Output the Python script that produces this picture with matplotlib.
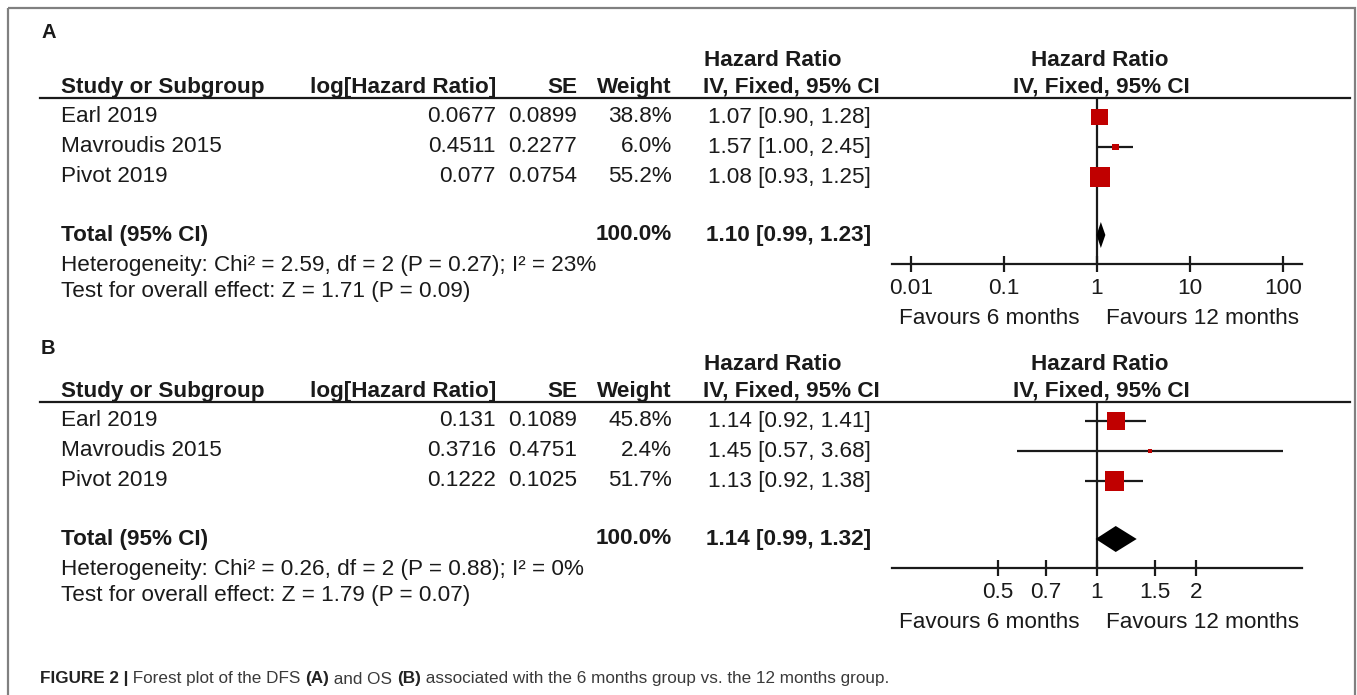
import matplotlib
matplotlib.use('Agg')
import matplotlib.pyplot as plt
from matplotlib.patches import Rectangle
from matplotlib.ticker import NullLocator

plt.rcParams['font.family'] = ['Liberation Sans', 'DejaVu Sans']

W, H = 1357, 695
FS = 16.2
INK = '#1a1a1a'
RED = '#c00000'

# ---- data ----
studies = ['Earl 2019', 'Mavroudis 2015', 'Pivot 2019']

# (A) disease-free survival
dfs_loghr = ['0.0677', '0.4511', '0.077']
dfs_se = ['0.0899', '0.2277', '0.0754']
dfs_weight = [38.8, 6.0, 55.2]
dfs_hr = [1.07, 1.57, 1.08]
dfs_lo = [0.90, 1.00, 0.93]
dfs_hi = [1.28, 2.45, 1.25]
dfs_total = [1.10, 0.99, 1.23]
dfs_het = 'Heterogeneity: Chi² = 2.59, df = 2 (P = 0.27); I² = 23%'
dfs_test = 'Test for overall effect: Z = 1.71 (P = 0.09)'
dfs_ticks = [0.01, 0.1, 1, 10, 100]
dfs_ticklabels = ['0.01', '0.1', '1', '10', '100']
dfs_xlim = (0.00625, 160)

# (B) overall survival
os_loghr = ['0.131', '0.3716', '0.1222']
os_se = ['0.1089', '0.4751', '0.1025']
os_weight = [45.8, 2.4, 51.7]
os_hr = [1.14, 1.45, 1.13]
os_lo = [0.92, 0.57, 0.92]
os_hi = [1.41, 3.68, 1.38]
os_total = [1.14, 0.99, 1.32]
os_het = 'Heterogeneity: Chi² = 0.26, df = 2 (P = 0.88); I² = 0%'
os_test = 'Test for overall effect: Z = 1.79 (P = 0.07)'
os_ticks = [0.5, 0.7, 1, 1.5, 2]
os_ticklabels = ['0.5', '0.7', '1', '1.5', '2']
os_xlim = (0.238, 4.2)

total_weight = '100.0%'

caption_parts = [
    ('FIGURE 2 |', True), (' Forest plot of the DFS ', False), ('(A)', True),
    (' and OS ', False), ('(B)', True),
    (' associated with the 6 months group vs. the 12 months group.', False),
]

# vertical placement of each block (pixels from the top)
layout_a = dict(letter=33, hr=61, head=96, line=98, rows=[117, 147, 177],
                total=235, het=266, test=292, axis=264, favours=318)
layout_b = {k: ([r + 304 for r in v] if isinstance(v, list) else v + 304)
            for k, v in layout_a.items()}
layout_b['letter'] = 348

fig = plt.figure(figsize=(W / 100, H / 100), dpi=100)
bg = fig.add_axes([0, 0, 1, 1])
bg.set_xlim(0, W)
bg.set_ylim(H, 0)
bg.axis('off')

# outer frame (open at the bottom)
bg.add_patch(Rectangle((8, 8), 1347, 760, fill=False, edgecolor='#808080',
                       lw=1.6, clip_on=False))


def txt(x, y, s, ha='left', bold=False, va='center', size=FS, color=INK):
    bg.text(x, y, s, ha=ha, va=va, fontsize=size, color=color,
            fontweight='bold' if bold else 'normal')


def panel(L, letter, loghr, se, weight, hr, lo, hi, total, het, test,
          ticks, ticklabels, xlim):
    line_y = L['line']
    rows = L['rows']
    total_y = L['total']
    axis_y = L['axis']

    txt(41, L['letter'], letter, bold=True, size=14.5)
    txt(704, L['hr'], 'Hazard Ratio', bold=True)
    txt(1100, L['hr'], 'Hazard Ratio', ha='center', bold=True)

    heads = [(61, 'Study or Subgroup', 'left'), (496, 'log[Hazard Ratio]', 'right'),
             (577, 'SE', 'right'), (672, 'Weight', 'right'),
             (703, 'IV, Fixed, 95% CI', 'left'), (1101, 'IV, Fixed, 95% CI', 'center')]
    for x, s, ha in heads:
        txt(x, L['head'] - 3, s, ha=ha, bold=True, va='baseline')
    bg.plot([40, 1350], [line_y, line_y], color=INK, lw=1.6)

    for i, y in enumerate(rows):
        txt(61, y, studies[i])
        txt(496, y, loghr[i], ha='right')
        txt(577, y, se[i], ha='right')
        txt(672, y, f'{weight[i]:.1f}%', ha='right')
        txt(708, y, f'{hr[i]:.2f} [{lo[i]:.2f}, {hi[i]:.2f}]')

    txt(61, total_y, 'Total (95% CI)', bold=True)
    txt(672, total_y, total_weight, ha='right', bold=True)
    txt(706, total_y, f'{total[0]:.2f} [{total[1]:.2f}, {total[2]:.2f}]', bold=True)
    txt(61, L['het'], het)
    txt(61, L['test'], test)

    # forest plot area: y in pixel rows, x on a log hazard-ratio scale
    left, right = 892, 1302
    ax = fig.add_axes([left / W, 1 - axis_y / H, (right - left) / W,
                       (axis_y - line_y) / H])
    ax.set_xscale('log')
    ax.set_xlim(*xlim)
    ax.set_ylim(axis_y, line_y)
    ax.patch.set_visible(False)
    for s in ('top', 'left', 'right'):
        ax.spines[s].set_visible(False)
    ax.spines['bottom'].set_linewidth(1.6)
    ax.spines['bottom'].set_color(INK)
    ax.set_yticks([])
    ax.set_xticks(ticks)
    ax.set_xticklabels(ticklabels)
    ax.xaxis.set_minor_locator(NullLocator())
    ax.tick_params(axis='x', direction='inout', length=12, width=1.6,
                   pad=4, labelsize=FS, colors=INK)

    ax.axvline(1, color=INK, lw=1.6)
    ax.hlines(rows, lo, hi, color=INK, lw=1.6, zorder=2)
    sides = [2.7 * w ** 0.5 * 0.72 for w in weight]
    ax.scatter(hr, rows, s=[sd ** 2 for sd in sides], marker='s', color=RED,
               linewidths=0, zorder=3, clip_on=False)
    h = 13
    ax.fill([total[1], total[0], total[2], total[0]],
            [total_y, total_y - h, total_y, total_y + h], color='black', lw=0,
            zorder=3)

    txt(1080, L['favours'], 'Favours 6 months', ha='right')
    txt(1106, L['favours'], 'Favours 12 months')


panel(layout_a, 'A', dfs_loghr, dfs_se, dfs_weight, dfs_hr, dfs_lo, dfs_hi,
      dfs_total, dfs_het, dfs_test, dfs_ticks, dfs_ticklabels, dfs_xlim)
panel(layout_b, 'B', os_loghr, os_se, os_weight, os_hr, os_lo, os_hi,
      os_total, os_het, os_test, os_ticks, os_ticklabels, os_xlim)

# caption with mixed bold / regular runs
fig.canvas.draw()
renderer = fig.canvas.get_renderer()
x = 40
for piece, bold in caption_parts:
    t = bg.text(x, 679, piece, ha='left', va='center', fontsize=12.3,
                color='#222222' if bold else '#3a3a3a',
                fontweight='bold' if bold else 'normal')
    x += t.get_window_extent(renderer).width

fig.savefig('out.png', dpi=100)
